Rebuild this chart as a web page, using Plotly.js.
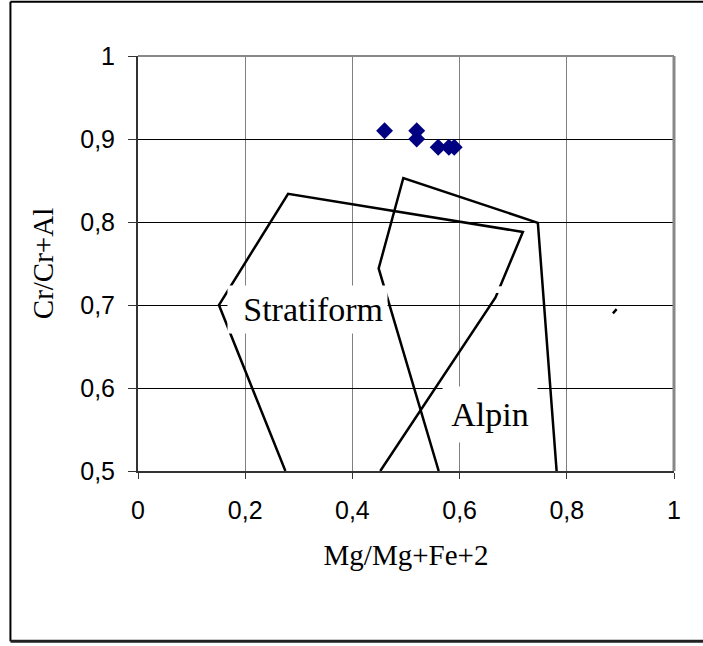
<!DOCTYPE html>
<html>
<head>
<meta charset="utf-8">
<script src="https://cdn.plot.ly/plotly-3.0.1.min.js"></script>
<style>html,body{margin:0;padding:0;background:#fff;}#chart{width:703px;height:646px;}</style>
</head>
<body>
<div id="chart"></div>
<script>
// Sample points (Mg/Mg+Fe+2, Cr/Cr+Al)
var sampleX = [0.46, 0.52, 0.52, 0.56, 0.58, 0.59];
var sampleY = [0.91, 0.91, 0.90, 0.89, 0.89, 0.89];

// Stratiform field outline
var stratX = [0.275, 0.151, 0.28, 0.718, 0.667, 0.452];
var stratY = [0.50, 0.70, 0.834, 0.788, 0.709, 0.50];

// Alpine field outline
var alpinX = [0.561, 0.449, 0.495, 0.746, 0.781];
var alpinY = [0.50, 0.744, 0.853, 0.799, 0.50];

// small stray segment
var strayX = [0.886, 0.893];
var strayY = [0.690, 0.695];

var xTicks = [0, 0.2, 0.4, 0.6, 0.8, 1];
var yTicks = [0.5, 0.6, 0.7, 0.8, 0.9, 1];

var labelText = ['Stratiform', 'Alpin'];
var labelX = [0.316, 0.657];
var labelY = [0.6946, 0.568];

var lineStyle = {color: '#000', width: 2.5};
var traces = [
  {x: stratX, y: stratY, mode: 'lines', line: lineStyle, hoverinfo: 'skip'},
  {x: alpinX, y: alpinY, mode: 'lines', line: lineStyle, hoverinfo: 'skip'},
  {x: strayX, y: strayY, mode: 'lines', line: lineStyle, hoverinfo: 'skip'},
  {x: sampleX, y: sampleY, mode: 'markers', marker: {symbol: 'diamond', size: 13, color: '#000080'}}
];

var tickFont = {family: 'Liberation Sans, Arial, sans-serif', size: 25, color: '#000'};
var titleFont = {family: 'Liberation Serif, Times New Roman, serif', size: 29, color: '#000'};
var labelFont = {family: 'Liberation Serif, Times New Roman, serif', size: 34, color: '#000'};

var layout = {
  width: 703, height: 646,
  margin: {l: 138, r: 29, t: 56, b: 175},
  paper_bgcolor: '#fff', plot_bgcolor: '#fff',
  showlegend: false,
  separators: ', ',
  xaxis: {
    range: [0, 1], tickvals: xTicks, showgrid: true, gridcolor: '#808080', gridwidth: 1,
    zeroline: false, showline: true, linecolor: '#333', linewidth: 2,
    ticks: 'outside', ticklen: 6, tickcolor: '#333', tickfont: tickFont, ticklabelstandoff: 10,
    title: {text: 'Mg/Mg+Fe+2', font: titleFont, standoff: 22}
  },
  yaxis: {
    range: [0.5, 1], tickvals: yTicks, showgrid: true, gridcolor: '#000', gridwidth: 1,
    zeroline: false, showline: true, linecolor: '#333', linewidth: 2,
    ticks: 'outside', ticklen: 8, tickcolor: '#333', tickfont: tickFont, ticklabelstandoff: 8,
    title: {text: 'Cr/Cr+Al', font: titleFont, standoff: 18}
  },
  shapes: [
    {type: 'line', xref: 'paper', yref: 'paper', x0: 0, x1: 1, y0: 1, y1: 1, line: {color: '#888', width: 2}},
    {type: 'line', xref: 'paper', yref: 'paper', x0: 1, x1: 1, y0: 0, y1: 1, line: {color: '#888', width: 3}},
    {type: 'line', xref: 'paper', yref: 'paper', x0: -0.238, x1: 1.06, y0: 1.131, y1: 1.131, line: {color: '#000', width: 2}},
    {type: 'line', xref: 'paper', yref: 'paper', x0: -0.238, x1: -0.238, y0: 1.131, y1: -0.41, line: {color: '#000', width: 2}},
    {type: 'line', xref: 'paper', yref: 'paper', x0: -0.238, x1: 1.06, y0: -0.41, y1: -0.41, line: {color: '#222', width: 3}},
    {type: 'rect', xref: 'x', yref: 'y', layer: 'above', x0: 0.662, x1: 0.68, y0: 0.7145, y1: 0.7225, line: {width: 0}, fillcolor: '#fff'}
  ],
  annotations: [
    {x: labelX[0], y: labelY[0], xref: 'x', yref: 'y', text: labelText[0], showarrow: false,
      bgcolor: '#fff', borderpad: 4, width: 151, height: 39, align: 'right', valign: 'middle', font: labelFont},
    {x: labelX[1], y: labelY[1], xref: 'x', yref: 'y', text: labelText[1], showarrow: false,
      bgcolor: '#fff', borderpad: 4, width: 86, height: 47, align: 'center', valign: 'middle', font: labelFont}
  ]
};

Plotly.newPlot('chart', traces, layout, {staticPlot: true, displayModeBar: false});
</script>
</body>
</html>
